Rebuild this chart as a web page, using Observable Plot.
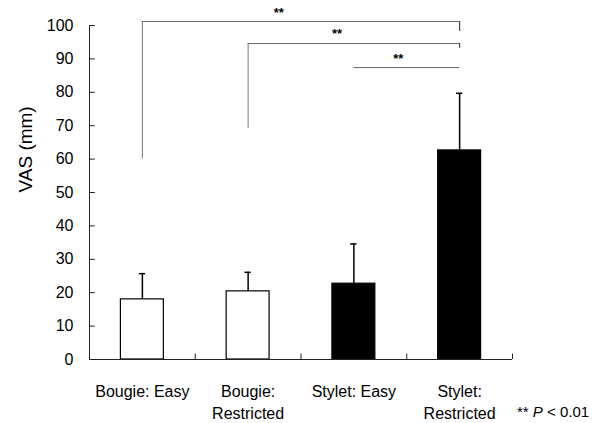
<!DOCTYPE html>
<html>
<head>
<meta charset="utf-8">
<script src="https://cdn.jsdelivr.net/npm/d3@7"></script>
<script src="https://cdn.jsdelivr.net/npm/@observablehq/plot@0.6"></script>
<style>
  html, body { margin: 0; padding: 0; background: #fff; }
  #chart { width: 616px; height: 423px; }
</style>
</head>
<body>
<div id="chart"></div>
<script>
// ---- data ----
const categories = ["Bougie: Easy", "Bougie:\nRestricted", "Stylet: Easy", "Stylet:\nRestricted"];
const groups = ["Bougie", "Bougie", "Stylet", "Stylet"];
const means = [18, 20.4, 22.7, 62.6];
const upperErrors = [25.7, 26.1, 34.6, 79.7];
const yTicks = [0, 10, 20, 30, 40, 50, 60, 70, 80, 90, 100];
// significance brackets: from bar, to bar, bracket height, left leg end, right leg end
const bracketFrom = [1, 2, 3];
const bracketTo = [4, 4, 4];
const bracketY = [101.2, 94.6, 87.4];
const bracketLeftEnd = [60, 69.2, 87.4];
const bracketRightEnd = [98.2, 93.2, 87.4];
const starLabels = ["**", "**", "**"];
const starX = [2.29, 2.84, 3.42];
const starY = [103.8, 97.5, 90.0];
const footnote = ["** ", "P", " < 0.01"];

// ---- tables built from the arrays ----
const bars = categories.map((c, i) => ({idx: i + 1, label: c, group: groups[i], mean: means[i], upper: upperErrors[i]}));
const brackets = bracketFrom.map((f, i) => ({from: f, to: bracketTo[i], y: bracketY[i], left: bracketLeftEnd[i], right: bracketRightEnd[i]}));
const stars = starLabels.map((s, i) => ({s, x: starX[i], y: starY[i]}));
const half = 0.203, cap = 0.03, band = [1.5, 2.5, 3.5, 4.5];

const font = "Liberation Sans, Arial, Helvetica, sans-serif";

const chart = Plot.plot({
  width: 616,
  height: 423,
  marginLeft: 89,
  marginRight: 104,
  marginTop: 25,
  marginBottom: 64,
  style: {fontFamily: font, color: "black", background: "white", overflow: "visible"},
  x: {domain: [0.5, 4.5], axis: null},
  y: {domain: [0, 100], axis: null},
  color: {domain: ["Bougie", "Stylet"], range: ["white", "black"]},
  marks: [
    // y axis
    Plot.axisY({ticks: yTicks, tickSize: 0, tickPadding: 16, fontSize: 16, label: null}),
    Plot.ruleX([0.5], {y1: 0, y2: 100, stroke: "#222"}),
    Plot.ruleY(yTicks, {x1: 0.5, x2: 0.5 + 0.055, y: d => d, stroke: "#222"}),
    Plot.text(["VAS (mm)"], {frameAnchor: "left", rotate: -90, dx: -64, fontSize: 19}),
    // bars
    Plot.rectY(bars, {x1: d => d.idx - half, x2: d => d.idx + half, y1: 0, y2: "mean", fill: "group", stroke: "black", strokeWidth: 1.2}),
    // error bars
    Plot.ruleX(bars, {x: "idx", y1: "mean", y2: "upper", stroke: "black", strokeWidth: 1.5}),
    Plot.ruleY(bars, {x1: d => d.idx - cap, x2: d => d.idx + cap, y: "upper", stroke: "black", strokeWidth: 1.5}),
    // x axis
    Plot.ruleY([0], {x1: 0.5, x2: 4.5, stroke: "#222"}),
    Plot.ruleX(band, {x: d => d, y1: 0, y2: 1.6, stroke: "#222"}),
    Plot.text(bars, {x: "idx", y: 0, text: "label", dy: 21, lineAnchor: "top", lineHeight: 1.42, fontSize: 16}),
    // significance brackets
    Plot.ruleY(brackets, {x1: "from", x2: "to", y: "y", stroke: "#666", strokeWidth: 1}),
    Plot.ruleX(brackets, {x: "from", y1: "y", y2: "left", stroke: "#777", strokeWidth: 1}),
    Plot.ruleX(brackets, {x: "to", y1: "y", y2: "right", stroke: "#444", strokeWidth: 1.2}),
    Plot.text(stars, {x: "x", y: "y", text: "s", fontSize: 13, fontWeight: "bold"})
  ]
});

const svg = d3.select(chart);
const note = svg.append("text")
  .attr("x", 517).attr("y", 417)
  .attr("text-anchor", "start")
  .attr("font-family", font).attr("font-size", 15).attr("fill", "black");
note.append("tspan").text(footnote[0]);
note.append("tspan").attr("font-style", "italic").text(footnote[1]);
note.append("tspan").text(footnote[2]);

document.getElementById("chart").append(chart);
</script>
</body>
</html>
